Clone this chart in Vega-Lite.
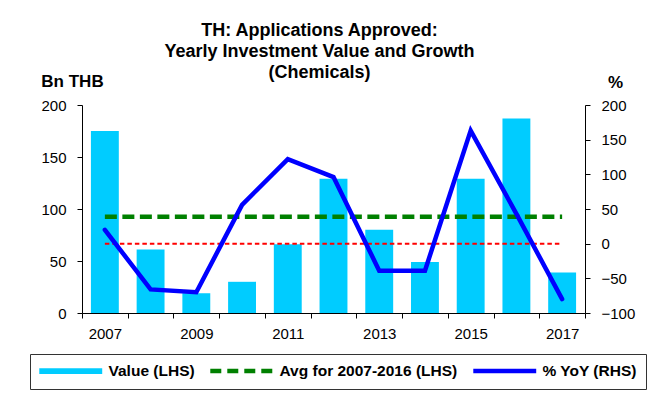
{
  "$schema": "https://vega.github.io/schema/vega-lite/v6.json",
  "width": 503,
  "height": 208,
  "autosize": "none",
  "padding": {"left": 82, "top": 105, "right": 86, "bottom": 88},
  "background": "white",
  "config": {
    "font": "Liberation Sans",
    "view": {"stroke": null},
    "axis": {
      "labelFont": "Liberation Sans",
      "labelFontSize": 15,
      "labelColor": "#000",
      "domainColor": "#000",
      "tickColor": "#000",
      "tickSize": 5,
      "grid": false,
      "titleFont": "Liberation Sans",
      "titleFontSize": 17,
      "titleFontWeight": "bold",
      "titleColor": "#000"
    }
  },
  "title": {
    "text": ["TH: Applications Approved:", "Yearly Investment Value and Growth", "(Chemicals)"],
    "fontSize": 18,
    "fontWeight": "bold",
    "font": "Liberation Sans",
    "color": "#000",
    "lineHeight": 21,
    "anchor": "middle",
    "dx": -14,
    "dy": 18,
    "offset": 8
  },
  "data": {
    "values": [
      {"year": 2007, "value": 175, "yoy": 20, "avg": 92.5, "zero": 0},
      {"year": 2008, "value": 61, "yoy": -66, "avg": 92.5, "zero": 0},
      {"year": 2009, "value": 19, "yoy": -70, "avg": 92.5, "zero": 0},
      {"year": 2010, "value": 30, "yoy": 56, "avg": 92.5, "zero": 0},
      {"year": 2011, "value": 66, "yoy": 122, "avg": 92.5, "zero": 0},
      {"year": 2012, "value": 129, "yoy": 96, "avg": 92.5, "zero": 0},
      {"year": 2013, "value": 80, "yoy": -39, "avg": 92.5, "zero": 0},
      {"year": 2014, "value": 49, "yoy": -39, "avg": 92.5, "zero": 0},
      {"year": 2015, "value": 129, "yoy": 163, "avg": 92.5, "zero": 0},
      {"year": 2016, "value": 187, "yoy": 43, "avg": 92.5, "zero": 0},
      {"year": 2017, "value": 39, "yoy": -80, "avg": 92.5, "zero": 0}
    ]
  },
  "encoding": {
    "x": {
      "field": "year",
      "type": "ordinal",
      "scale": {"paddingInner": 0, "paddingOuter": 0},
      "axis": {
        "title": null,
        "labelAngle": 0,
        "tickBand": "extent",
        "labelPadding": 8,
        "labelExpr": "datum.value % 2 == 1 ? datum.label : ''"
      }
    }
  },
  "layer": [
    {
      "mark": {"type": "bar", "width": {"band": 0.61}},
      "encoding": {
        "y": {
          "field": "value",
          "type": "quantitative",
          "scale": {"domain": [0, 200], "nice": false},
          "axis": {
            "orient": "left",
            "values": [0, 50, 100, 150, 200],
            "title": "Bn THB",
            "titleAngle": 0,
            "titleAlign": "center",
            "titleBaseline": "alphabetic",
            "titleX": -10,
            "titleY": -19,
            "labelPadding": 11
          }
        },
        "color": {
          "datum": "Value (LHS)",
          "type": "nominal",
          "scale": {
            "domain": ["Value (LHS)", "Avg for 2007-2016 (LHS)", "% YoY (RHS)"],
            "range": ["#00CCFF", "#008000", "#0000FF"]
          },
          "legend": {
            "orient": "none",
            "legendX": -52,
            "legendY": 249,
            "direction": "horizontal",
            "title": null,
            "strokeColor": "#333",
            "padding": 9,
            "symbolSize": 110,
            "symbolOffset": 24,
            "labelOffset": 30,
            "columnPadding": 6,
            "labelLimit": 400,
            "labelFont": "Liberation Sans",
            "labelFontSize": 15.5,
            "labelFontWeight": "bold",
            "labelColor": "#000",
            "encode": {
              "symbols": {
                "update": {
                  "shape": {"signal": "datum.value === 'Value (LHS)' ? 'M-6,-0.55H6V0.55H-6Z' : 'M-6,0H6'"},
                  "fill": {"signal": "datum.value === 'Value (LHS)' ? '#00CCFF' : 'transparent'"},
                  "stroke": {"signal": "datum.value === 'Value (LHS)' ? 'transparent' : (datum.value === '% YoY (RHS)' ? '#0000FF' : '#008000')"},
                  "strokeDash": {"signal": "datum.value === 'Avg for 2007-2016 (LHS)' ? [11, 6] : [1, 0]"},
                  "strokeWidth": {"signal": "datum.value === 'Value (LHS)' ? 0 : 4.5"},
                  "opacity": {"value": 1},
                  "fillOpacity": {"value": 1}
                }
              }
            }
          }
        }
      }
    },
    {
      "mark": {"type": "line", "strokeDash": [12, 5.5], "strokeWidth": 4.5},
      "encoding": {
        "y": {
          "field": "avg",
          "type": "quantitative",
          "scale": {"domain": [0, 200], "nice": false},
          "axis": null
        },
        "color": {"datum": "Avg for 2007-2016 (LHS)", "type": "nominal"}
      }
    },
    {
      "mark": {"type": "line", "color": "#FF0000", "strokeDash": [4.5, 3], "strokeWidth": 2},
      "encoding": {
        "y": {
          "field": "zero",
          "type": "quantitative",
          "scale": {"domain": [-100, 200], "nice": false},
          "axis": null
        }
      }
    },
    {
      "mark": {"type": "line", "strokeWidth": 4.5, "strokeCap": "round"},
      "encoding": {
        "y": {
          "field": "yoy",
          "type": "quantitative",
          "scale": {"domain": [-100, 200], "nice": false},
          "axis": {
            "orient": "right",
            "values": [-100, -50, 0, 50, 100, 150, 200],
            "title": "%",
            "titleAngle": 0,
            "titleAlign": "center",
            "titleBaseline": "alphabetic",
            "titleX": 30,
            "titleY": -18,
            "labelPadding": 11
          }
        },
        "color": {"datum": "% YoY (RHS)", "type": "nominal"}
      }
    }
  ],
  "resolve": {"scale": {"y": "independent"}}
}
